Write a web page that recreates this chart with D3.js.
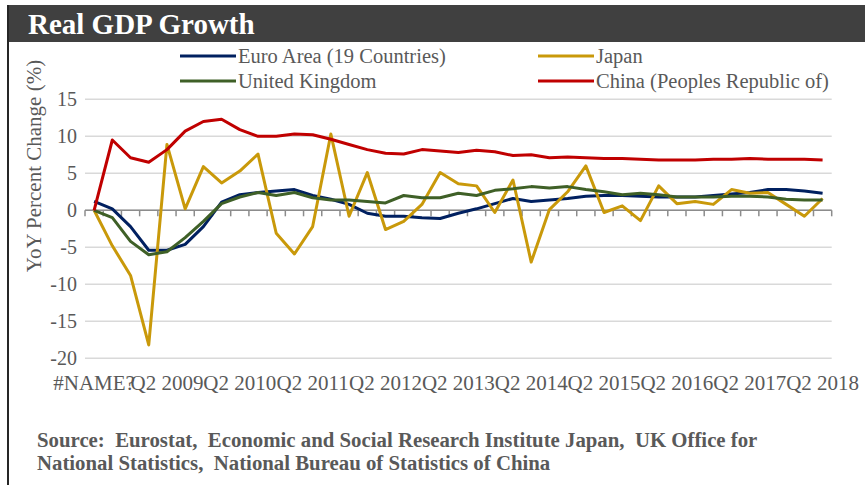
<html>
<head>
<meta charset="utf-8">
<title>Real GDP Growth</title>
<script src="https://d3js.org/d3.v7.min.js"></script>
<style>
  body { margin: 0; padding: 0; background: #fff; }
  svg text { font-family: "Liberation Serif", "DejaVu Serif", serif; }
</style>
</head>
<body>
<div id="chart"></div>
<script>

var quarters = ["#NAME?","Q3 2008","Q4 2008","Q1 2009","Q2 2009","Q3 2009","Q4 2009","Q1 2010",
  "Q2 2010","Q3 2010","Q4 2010","Q1 2011","Q2 2011","Q3 2011","Q4 2011","Q1 2012",
  "Q2 2012","Q3 2012","Q4 2012","Q1 2013","Q2 2013","Q3 2013","Q4 2013","Q1 2014",
  "Q2 2014","Q3 2014","Q4 2014","Q1 2015","Q2 2015","Q3 2015","Q4 2015","Q1 2016",
  "Q2 2016","Q3 2016","Q4 2016","Q1 2017","Q2 2017","Q3 2017","Q4 2017","Q1 2018","Q2 2018"];

var euroArea = [1.2,0.2,-2.2,-5.4,-5.4,-4.6,-2.2,1.1,2.1,2.4,2.6,2.8,2.0,1.5,0.8,-0.4,
  -0.8,-0.8,-1.0,-1.1,-0.4,0.2,0.9,1.6,1.2,1.4,1.6,1.9,2.0,2.0,1.9,1.8,
  1.8,1.8,2.0,2.2,2.4,2.8,2.8,2.6,2.3];
var japan = [0,-4.8,-8.8,-18.2,8.9,0.2,5.9,3.7,5.3,7.6,-3.1,-5.9,-2.2,10.3,-0.8,5.1,
  -2.6,-1.5,0.8,5.1,3.6,3.3,-0.3,4.1,-7.0,0.1,2.5,6.0,-0.3,0.6,-1.4,3.3,
  0.9,1.2,0.8,2.8,2.3,2.4,0.8,-0.8,1.6];
var unitedKingdom = [0,-1.0,-4.2,-6.0,-5.6,-3.7,-1.5,0.9,1.8,2.4,2.0,2.4,1.7,1.4,1.4,1.2,
  1.0,2.0,1.7,1.7,2.3,2.0,2.7,2.9,3.2,3.0,3.2,2.8,2.5,2.1,2.3,2.1,
  1.8,1.8,1.8,1.9,1.9,1.8,1.5,1.4,1.4];
var china = [0,9.5,7.1,6.5,8.2,10.7,12.0,12.3,10.9,10.0,10.0,10.3,10.2,9.6,8.9,8.2,
  7.7,7.6,8.2,8.0,7.8,8.1,7.9,7.4,7.5,7.1,7.2,7.1,7.0,7.0,6.9,6.8,
  6.8,6.8,6.9,6.9,7.0,6.9,6.9,6.9,6.8];

var yTicks = [15,10,5,0,-5,-10,-15,-20];

var series = [
  {name: "Euro Area (19 Countries)", values: euroArea, color: "#002060"},
  {name: "Japan", values: japan, color: "#C9990A"},
  {name: "United Kingdom", values: unitedKingdom, color: "#3F6027"},
  {name: "China (Peoples Republic of)", values: china, color: "#C00000"}
];

var W = 865, H = 485;
var serif = "Liberation Serif, serif";

var svg = d3.select("#chart").append("svg")
  .attr("width", W)
  .attr("height", H)
  .attr("font-family", serif);

// frame + title bar
svg.append("rect").attr("x", 0).attr("y", 0).attr("width", W).attr("height", H).attr("fill", "#fff");
svg.append("rect").attr("x", 7).attr("y", 5).attr("width", W - 7).attr("height", 37).attr("fill", "#404040");
svg.append("line").attr("x1", 8).attr("x2", 8).attr("y1", 5).attr("y2", H)
  .attr("stroke", "#262626").attr("stroke-width", 2);
svg.append("text")
  .attr("x", 28).attr("y", 34)
  .attr("fill", "#fff")
  .attr("font-size", 29)
  .attr("font-weight", "bold")
  .text("Real GDP Growth");

var x = d3.scaleBand()
  .domain(quarters)
  .range([85, 831.7])
  .padding(0);

var y = d3.scaleLinear()
  .domain([-20, 15])
  .range([358.3, 99.3]);

// gridlines
svg.append("g")
  .selectAll("line")
  .data(yTicks)
  .join("line")
  .attr("x1", 85).attr("x2", 831.7)
  .attr("y1", function(d) { return y(d); })
  .attr("y2", function(d) { return y(d); })
  .attr("stroke", "#D9D9D9")
  .attr("stroke-width", 1.5);

// y axis labels (plain hyphen for negatives, like Excel)
var yAxis = d3.axisLeft(y).tickValues(yTicks).tickSize(0).tickPadding(8)
  .tickFormat(function(d) { return String(d); });
var gy = svg.append("g").attr("transform", "translate(85,0)").call(yAxis)
  .attr("font-family", serif);
gy.select(".domain").remove();
gy.selectAll("text")
  .attr("font-size", 20)
  .attr("fill", "#595959");

// zero axis with category ticks
svg.append("g")
  .selectAll("line")
  .data(quarters.concat(["end"]))
  .join("line")
  .attr("x1", function(d, i) { return 85 + i * x.step(); })
  .attr("x2", function(d, i) { return 85 + i * x.step(); })
  .attr("y1", y(0))
  .attr("y2", y(0) + 6)
  .attr("stroke", "#8C8C8C")
  .attr("stroke-width", 1.5);

svg.append("line")
  .attr("x1", 85).attr("x2", 831.7)
  .attr("y1", y(0)).attr("y2", y(0))
  .attr("stroke", "#8C8C8C")
  .attr("stroke-width", 1.5);

var xAxis = d3.axisBottom(x)
  .tickValues(quarters.filter(function(d, i) { return i % 4 === 0; }))
  .tickSize(0)
  .tickPadding(0);

var gx = svg.append("g").attr("transform", "translate(0,390)").call(xAxis)
  .attr("font-family", serif);
gx.select(".domain").remove();
gx.selectAll("text")
  .attr("font-size", 21)
  .attr("fill", "#595959")
  .attr("dy", 0)
  .attr("y", 0);

// y axis title
svg.append("text")
  .attr("transform", "translate(41,166) rotate(-90)")
  .attr("text-anchor", "middle")
  .attr("font-size", 21)
  .attr("fill", "#595959")
  .text("YoY Percent Change (%)");

// lines
var line = d3.line()
  .x(function(d, i) { return x(quarters[i]) + x.bandwidth() / 2; })
  .y(function(d) { return y(d); });

svg.append("g")
  .selectAll("path")
  .data(series)
  .join("path")
  .attr("d", function(d) { return line(d.values); })
  .attr("fill", "none")
  .attr("stroke", function(d) { return d.color; })
  .attr("stroke-width", 3)
  .attr("stroke-linejoin", "round");

// legend
var legendPos = [[180, 56], [538, 56], [180, 81], [538, 81]];
var lg = svg.append("g")
  .selectAll("g")
  .data(series)
  .join("g")
  .attr("transform", function(d, i) { return "translate(" + legendPos[i][0] + "," + legendPos[i][1] + ")"; });
lg.append("line")
  .attr("x1", 0).attr("x2", 56)
  .attr("stroke", function(d) { return d.color; })
  .attr("stroke-width", 3);
lg.append("text")
  .attr("x", 58).attr("y", 7)
  .attr("font-size", 20.5)
  .attr("fill", "#595959")
  .text(function(d) { return d.name; });

// source
var source = ["Source:  Eurostat,  Economic and Social Research Institute Japan,  UK Office for",
  "National Statistics,  National Bureau of Statistics of China"];
svg.append("g")
  .selectAll("text")
  .data(source)
  .join("text")
  .attr("x", 37)
  .attr("y", function(d, i) { return 447 + i * 23; })
  .attr("font-size", 20.8)
  .attr("font-weight", "bold")
  .attr("fill", "#595959")
  .style("white-space", "pre")
  .text(function(d) { return d; });

</script>
</body>
</html>
